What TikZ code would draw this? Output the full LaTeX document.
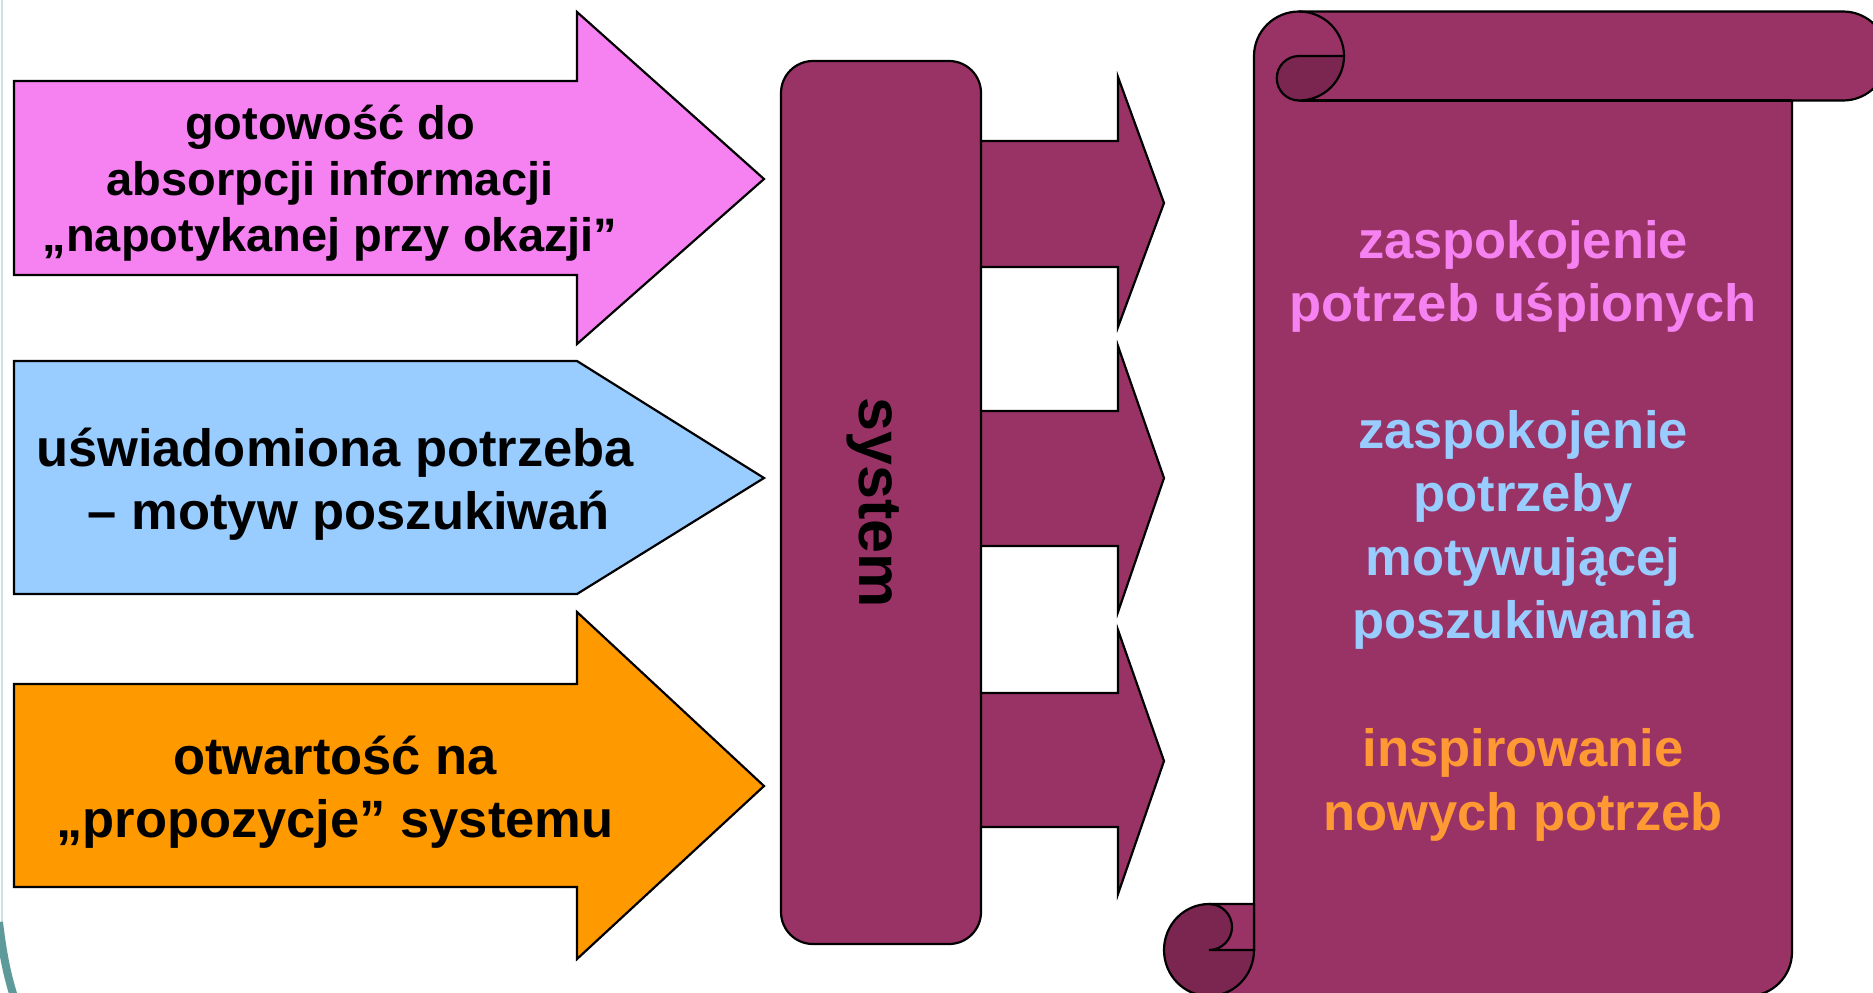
\documentclass[tikz,border=0pt]{standalone}
\usepackage{fontspec}
\setmainfont{Liberation Sans}
\usepackage{tikz}
\usetikzlibrary{positioning}
\definecolor{violetpink}{HTML}{F582F0}
\definecolor{skyblue}{HTML}{99CCFF}
\definecolor{amber}{HTML}{FF9900}
\definecolor{amberlight}{HTML}{FF9933}
\definecolor{plum}{HTML}{993366}
\definecolor{plumdark}{HTML}{7A2650}
\definecolor{framecol}{HTML}{5F9A9A}
\tikzset{
  edge/.style={draw=black, line width=1.1pt},
  inflow/.style={edge, line join=miter},
  outflow/.style={edge, fill=plum, line join=miter},
  scroll/.style={edge, fill=plum},
  rollshade/.style={edge, fill=plumdark},
  systembox/.style={edge, fill=plum, rounded corners=16pt, minimum width=100pt, minimum height=441.5pt},
  cuetext/.style={align=center, font=\bfseries\fontsize{26.25}{31.75}\selectfont},
  needtext/.style={align=center, font=\bfseries\fontsize{26.25}{31.75}\selectfont}
}

\begin{document}
\begin{tikzpicture}[x=0.5pt,y=-0.5pt]
    \useasboundingbox (0,0) rectangle (1873,992);

    % slide frame remnant
    \draw[framecol!30, line width=1pt] (1.5,0) -- (1.5,930);
    \draw[framecol, line width=4pt] (-1,922) .. controls (3,955) and (7,975) .. (15,1000);

    % left arrows
    \filldraw[inflow, fill=violetpink] (14,81) -- (577,81) -- (577,12) -- (764,179) -- (577,344) -- (577,275) -- (14,275) -- cycle;
    \filldraw[inflow, fill=skyblue] (14,361) -- (577,361) -- (764,478) -- (577,594) -- (14,594) -- cycle;
    \filldraw[inflow, fill=amber] (14,684) -- (577,684) -- (577,612) -- (764,786) -- (577,959) -- (577,887) -- (14,887) -- cycle;

    \node[cuetext, font=\bfseries\fontsize{23.5}{28}\selectfont] (readiness) at (330,183) {gotowość do\\absorpcji informacji\\„napotykanej przy okazji”};
    \node[cuetext] (need) at (335,484) {uświadomiona potrzeba\\\hspace*{14pt}– motyw poszukiwań};
    \node[cuetext] (openness) at (335,792) {otwartość na\\„propozycje” systemu};

    % arrows out of the system
    \foreach \ht/\st/\sb/\hb/\tp in {77/141/267/327/203, 346/411/546/612/478, 630/693/827/894/761}
      \filldraw[outflow] (981,\st) -- (1118,\st) -- (1118,\ht) -- (1164,\tp) -- (1118,\hb) -- (1118,\sb) -- (981,\sb);

    \node[systembox] (system) at (881,502.5) {};
    \node[rotate=-90, font=\bfseries\fontsize{30.5}{36}\selectfont] (systemlabel) at (873,502.5) {system};

    % scroll
    \filldraw[scroll] (1254,56) arc[start angle=180, end angle=270, x radius=45, y radius=44.5]
      -- (1843,11.5) arc[start angle=270, end angle=450, radius=44.5]
      -- (1792,100.5) -- (1792,952) arc[start angle=0, end angle=90, radius=44]
      -- (1209,996) -- (1209,950) -- (1254,950) -- cycle;
    \draw[edge] (1792,100.5) -- (1299,100.5);
    \draw[edge] (1299,11.5) arc[start angle=270, end angle=360, x radius=45, y radius=44.5];
    \filldraw[rollshade] (1299,56) -- (1344,56) arc[start angle=0, end angle=90, x radius=45, y radius=44.5]
      arc[start angle=90, end angle=270, radius=22.25] -- cycle;
    \filldraw[rollshade] (1209,950) ellipse[x radius=45, y radius=46];
    \filldraw[scroll] (1209,904) -- (1254,904) -- (1254,950) -- (1209,950)
      arc[start angle=90, end angle=-90, radius=23] -- cycle;

    \node[needtext, text=violetpink] (dormant) at (1523,276.5) {zaspokojenie\\potrzeb uśpionych};
    \node[needtext, text=skyblue] (motive) at (1523,530) {zaspokojenie\\potrzeby\\motywującej\\poszukiwania};
    \node[needtext, text=amberlight] (inspire) at (1523,785) {inspirowanie\\nowych potrzeb};
\end{tikzpicture}
\end{document}
